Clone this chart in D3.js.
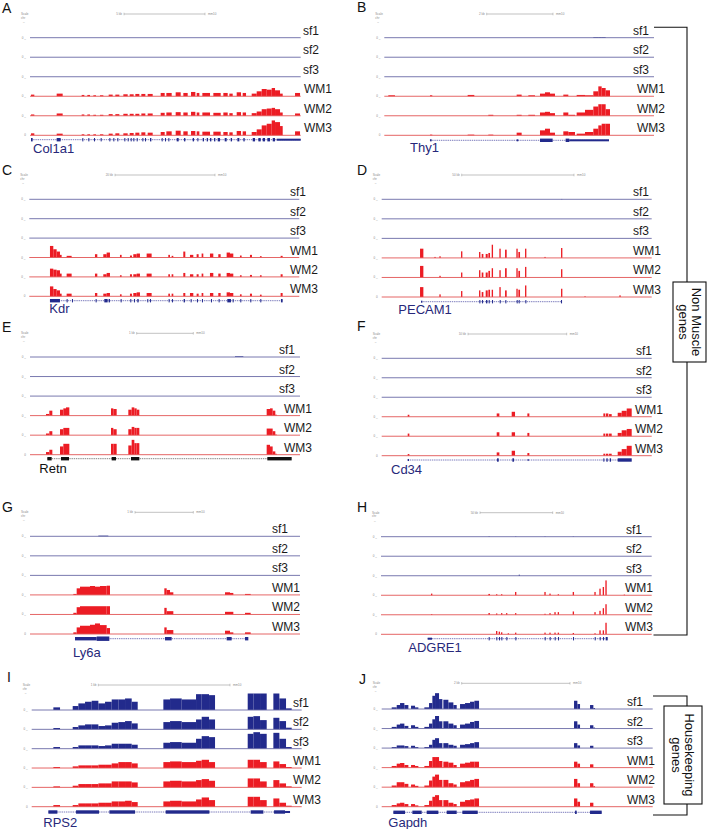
<!DOCTYPE html>
<html>
<head>
<meta charset="utf-8">
<script src="https://cdn.jsdelivr.net/npm/d3@7"></script>
<style>
  body { margin: 0; background: #fff; }
  text { font-family: "Liberation Sans", Arial, sans-serif; }
</style>
</head>
<body>
<svg id="fig" width="713" height="829"></svg>
<script>
// track order inside every panel
const trackNames = ["sf1", "sf2", "sf3", "WM1", "WM2", "WM3"];

// ---- A: Col1a1 (window units 0..812, signal 0..50) ----
const col1a1Bins = [[3,13],[80,98],[155,163],[172,180],[190,198],[210,220],[236,248],[256,268],[280,293],[299,311],[316,328],[334,346],[353,368],[392,404],[409,425],[437,452],[460,473],[483,496],[500,508],[517,540],[550,572],[580,593],[598,608],[620,633],[638,648],[665,680],[680,695],[695,710],[710,725],[725,735],[735,750],[750,758],[795,810]];
const col1a1WM1 = [5,8,4,4,3,3,5,5,6,6,7,7,7,10,10,12,10,13,10,10,10,10,8,12,10,8,15,22,20,25,18,8,10];
const col1a1WM2 = [4,7,4,4,3,3,5,5,6,6,6,7,7,9,10,11,10,12,10,10,9,10,8,11,10,8,13,20,22,24,20,10,7];
const col1a1WM3 = [6,5,3,3,3,3,5,6,6,7,8,9,8,10,12,14,12,13,12,11,11,10,9,13,12,10,18,30,35,45,40,28,12];
const col1a1Exons = [[3,8,1],[80,92,1],[157,160,1],[175,178,1],[192,195,1],[212,215,1],[238,241,1],[250,253,1],[262,265,1],[283,286,1],[293,296,1],[302,305,1],[310,313,1],[320,323,1],[337,340,1],[345,348,1],[360,364,1],[395,398,1],[405,408,1],[415,418,1],[440,446,1],[462,466,1],[488,492,1],[502,505,1],[518,522,1],[530,534,1],[540,544,1],[552,556,1],[563,570,1],[584,590,1],[602,606,1],[622,628,1],[640,644,1],[668,675,1],[685,692,1],[698,705,1],[712,720,1],[728,735,1],[740,812,0.6]];

// ---- B: Thy1 ----
const thy1Bins = [[12,32],[137,144],[250,270],[312,327],[397,412],[432,452],[467,482],[482,497],[497,512],[537,552],[552,572],[577,602],[602,627],[627,642],[642,652],[652,664],[664,677]];
const thy1Sf1 = [0,0,0,0,0,0,0,0,0,0,0,0,0,2,2,2,0];
const thy1WM1 = [3,3,4,0,5,3,8,12,8,5,0,4,3,15,30,25,18];
const thy1WM2 = [0,0,0,3,3,3,10,12,8,10,3,10,18,28,35,35,20];
const thy1WM3 = [0,2,2,2,8,0,15,20,8,12,10,5,10,20,30,35,35];
const thy1Exons = [[137,142,0.6],[397,402,0.6],[467,505,1],[544,555,1],[555,674,0.6]];

// ---- C: Kdr ----
const kdrBins = [[62,72],[72,82],[82,92],[92,97],[112,127],[197,204],[222,232],[232,242],[272,277],[302,308],[312,322],[322,332],[352,367],[417,422],[427,432],[462,468],[482,492],[502,508],[517,522],[542,552],[567,574],[592,602],[602,612],[632,637],[662,668],[692,697],[754,760]];
const kdrWM1 = [35,25,18,8,5,10,10,15,8,6,10,12,12,8,5,18,8,10,12,12,10,15,12,6,8,4,5];
const kdrWM2 = [25,22,20,10,10,10,8,12,5,8,8,10,10,8,8,12,8,8,10,12,10,12,10,5,6,5,8];
const kdrWM3 = [30,22,18,8,8,10,8,10,6,8,10,12,10,8,8,10,10,8,10,10,10,12,10,6,8,5,10];
const kdrExons = [[62,92,1],[112,115,1],[128,130,1],[199,202,1],[225,235,1],[238,242,1],[274,276,1],[303,306,1],[314,317,1],[324,328,1],[354,357,1],[362,365,1],[418,421,1],[428,431,1],[463,467,1],[484,487,1],[503,506,1],[518,521,1],[545,548,1],[568,571,1],[594,605,1],[610,612,1],[633,636,1],[663,666,1],[693,696,1],[755,760,1]];

// ---- D: PECAM1 ----
const pecamBins = [[115,125],[158,162],[173,177],[238,242],[292,296],[300,305],[312,318],[320,325],[330,334],[353,357],[370,375],[404,408],[410,415],[430,434],[488,492],[538,542],[608,612],[713,717]];
const pecamSf1 = [0,0,0,0,0,0,0,0,0,0,0,0,0,0,0,1,0,0];
const pecamWM1 = [28,3,5,20,18,12,12,15,40,28,25,28,18,28,3,30,0,0];
const pecamWM2 = [35,0,5,15,22,15,15,20,28,22,28,28,20,32,0,25,0,0];
const pecamWM3 = [30,0,8,18,20,15,20,22,22,30,20,25,22,35,0,25,2,5];
const pecamExons = [[118,122,0.6],[293,296,1],[301,304,1],[313,317,1],[321,324,1],[331,334,1],[354,357,1],[371,374,1],[405,408,1],[411,414,1],[431,434,1],[538,541,1]];

// ---- E: Retn ----
const retnBins = [[48,58],[58,67],[90,100],[100,108],[108,118],[243,250],[250,260],[295,305],[305,313],[313,320],[320,328],[710,720],[720,728],[728,736],[736,740],[615,640]];
const retnSf1 = [0,0,0,0,0,0,0,0,0,0,0,0,0,0,0,2];
const retnWM1 = [5,15,18,22,25,22,20,18,25,22,18,20,22,15,3,0];
const retnWM2 = [5,12,18,22,22,22,18,18,25,22,22,20,20,12,2,0];
const retnWM3 = [8,15,25,33,33,33,33,28,45,35,35,30,25,10,3,0];
const retnExons = [[52,65,1],[93,117,1],[245,258,1],[303,328,1],[712,785,1]];

// ---- F: Cd34 ----
const cd34Bins = [[78,83],[345,353],[390,400],[437,443],[665,670],[672,680],[682,690],[708,720],[720,735],[735,750]];
const cd34WM1 = [6,10,15,10,10,10,8,12,18,25];
const cd34WM2 = [8,12,12,10,8,8,8,10,18,22];
const cd34WM3 = [5,10,15,8,6,6,6,12,20,30];
const cd34Exons = [[78,82,0.6],[346,351,1],[392,397,1],[438,441,0.6],[665,668,1],[674,678,1],[684,688,1],[708,750,1]];

// ---- G: Ly6a ----
const ly6aBins = [[130,140],[140,150],[150,180],[180,195],[195,210],[210,230],[230,240],[403,410],[410,420],[420,430],[585,600],[600,610],[645,662],[205,235]];
const ly6aSf1 = [0,0,0,0,0,0,0,0,0,0,0,0,0,2];
const ly6aWM1 = [3,20,25,27,25,27,28,20,15,8,8,6,3,0];
const ly6aWM2 = [5,22,25,25,25,25,25,20,10,10,8,8,5,0];
const ly6aWM3 = [5,20,25,28,32,27,18,20,12,12,10,5,5,0];
const ly6aExons = [[135,200,1],[200,238,1.3],[405,425,1],[590,605,1],[645,655,1]];

// ---- H: ADGRE1 ----
const adgreBins = [[150,154],[322,327],[345,349],[353,357],[360,364],[375,379],[380,384],[402,406],[490,494],[505,509],[520,524],[530,534],[575,579],[640,644],[655,659],[665,669],[673,677],[728,732],[413,417]];
const adgreSf1 = [0,1,0,0,0,0,0,1,1,0,0,0,1,0,0,0,0,0,0];
const adgreSf3 = [0,0,0,0,0,0,0,0,0,0,0,0,0,0,0,0,0,0,3];
const adgreWM1 = [5,4,3,0,3,0,0,10,10,5,0,3,10,10,20,25,45,2,0];
const adgreWM2 = [2,5,4,0,5,5,0,5,3,5,8,8,10,8,12,20,32,0,0];
const adgreWM3 = [0,0,10,8,6,0,3,5,5,5,5,5,4,3,12,12,35,0,0];
const adgreExons = [[140,153,0.6],[323,326,1],[346,349,1],[354,357,1],[361,364,1],[376,379,1],[403,406,1],[491,494,1],[506,509,1],[521,524,1],[531,534,1],[576,579,1],[641,644,1],[656,659,1],[666,669,1],[674,680,1]];

// ---- I: RPS2 ----
const rps2Bins = [[65,85],[123,140],[140,160],[160,180],[180,200],[200,220],[220,240],[240,260],[260,280],[280,300],[300,318],[395,415],[415,450],[450,493],[493,510],[510,532],[532,550],[648,665],[665,685],[685,705],[725,743],[743,763],[763,780]];
const rps2Sf1 = [8,12,20,25,28,20,25,32,32,35,25,32,35,32,48,48,45,60,60,60,60,35,5];
const rps2Sf2 = [4,7,12,15,15,10,12,20,22,25,18,22,25,22,30,38,30,38,40,28,35,25,5];
const rps2Sf3 = [5,5,10,10,10,8,10,15,15,15,12,18,20,18,30,38,35,45,55,45,48,30,5];
const rps2WM1 = [3,5,8,8,8,10,10,14,18,18,14,18,20,18,22,25,18,25,25,18,20,12,3];
const rps2WM2 = [3,5,10,10,10,12,12,18,18,18,15,18,20,18,22,25,20,27,27,18,22,12,3];
const rps2WM3 = [5,5,10,10,10,12,12,16,16,18,14,16,18,16,22,28,20,30,30,20,25,12,3];
const rps2Exons = [[50,77,1],[133,202,1],[233,310,1],[402,533,1],[657,695,1],[727,760,1],[760,775,0.6]];

// ---- J: Gapdh ----
const gapdhBins = [[30,45],[45,55],[55,68],[68,80],[88,100],[100,110],[128,142],[142,152],[152,160],[160,172],[172,182],[185,200],[200,215],[215,225],[235,250],[250,265],[265,278],[278,292],[577,587],[587,595],[625,635],[635,640]];
const gapdhSf1 = [5,12,18,12,10,5,5,18,40,48,30,28,20,12,15,18,22,25,25,15,12,3];
const gapdhSf2 = [5,12,15,8,10,5,5,15,28,38,22,22,15,10,12,15,20,23,22,12,10,3];
const gapdhSf3 = [3,8,8,6,7,3,3,10,25,30,15,15,10,7,10,12,15,18,15,8,7,0];
const gapdhWM1 = [5,12,14,8,8,5,5,20,32,32,20,18,15,8,12,15,18,18,18,12,10,0];
const gapdhWM2 = [5,15,15,10,8,4,5,20,32,38,22,22,12,8,15,18,22,25,25,12,12,3];
const gapdhWM3 = [5,10,12,8,8,4,5,18,30,35,20,20,12,8,15,20,22,25,25,15,12,0];
const gapdhExons = [[35,70,1],[92,120,1],[135,170,1],[195,225,1],[242,288,1],[580,585,1],[625,660,1]];

const red = "#ec1c24", navy = "#222a8c";
const sfLine = "#6a6aa6", wmLine = "#e25555";

const panels = [
  {id:"A", gene:"Col1a1", span:812, bins:col1a1Bins, tracks:[[],[],[],col1a1WM1,col1a1WM2,col1a1WM3], exons:col1a1Exons,
   x0:30, x1:300.7, y0:37.7, step:19.52, geneY:139.7, name:[33,153], letter:[2,13], sfLX:303, wmLX:304, scale:[14,124,205,"5 kb"]},
  {id:"B", gene:"Thy1", span:809, bins:thy1Bins, tracks:[thy1Sf1,[],[],thy1WM1,thy1WM2,thy1WM3], exons:thy1Exons,
   x0:384.3, x1:654, y0:37.7, step:19.52, geneY:140.3, name:[410,151.7], letter:[357,12], sfLX:633, wmLX:637, scale:[14,486.7,553,"2 kb"]},
  {id:"C", gene:"Kdr", span:810, bins:kdrBins, tracks:[[],[],[],kdrWM1,kdrWM2,kdrWM3], exons:kdrExons,
   x0:29.3, x1:299.3, y0:199.3, step:19.4, geneY:300.7, name:[49.3,313.3], letter:[2,175], sfLX:290, wmLX:290, scale:[175,115,215,"20 kb"]},
  {id:"D", gene:"PECAM1", span:810, bins:pecamBins, tracks:[pecamSf1,[],[],pecamWM1,pecamWM2,pecamWM3], exons:pecamExons,
   x0:381.7, x1:651.7, y0:199.3, step:19.54, geneY:301.7, name:[398.3,314], letter:[357,175], sfLX:633, wmLX:633, scale:[175,461.7,574,"50 kb"]},
  {id:"E", gene:"Retn", span:810, bins:retnBins, tracks:[retnSf1,[],[],retnWM1,retnWM2,retnWM3], exons:retnExons, black:true,
   x0:30, x1:300, y0:357, step:19.54, geneY:458.7, name:[39.3,473.3], letter:[2,332], sfLX:279, wmLX:284, scale:[333.3,136.7,193.3,"1 kb"]},
  {id:"F", gene:"Cd34", span:810, bins:cd34Bins, tracks:[[],[],[],cd34WM1,cd34WM2,cd34WM3], exons:cd34Exons,
   x0:381.7, x1:651.7, y0:358.3, step:19.48, geneY:460, name:[391,474], letter:[357,331], sfLX:636, wmLX:635, scale:[334,468,566.7,"10 kb"]},
  {id:"G", gene:"Ly6a", span:810, bins:ly6aBins, tracks:[ly6aSf1,[],[],ly6aWM1,ly6aWM2,ly6aWM3], exons:ly6aExons,
   x0:30, x1:300, y0:536.3, step:19.54, geneY:638.7, name:[73,656.5], letter:[2,512], sfLX:272, wmLX:272, scale:[512.3,135,193.3,"1 kb"]},
  {id:"H", gene:"ADGRE1", span:812, bins:adgreBins, tracks:[adgreSf1,[],adgreSf3,adgreWM1,adgreWM2,adgreWM3], exons:adgreExons,
   x0:381, x1:651.7, y0:536.7, step:19.52, geneY:638.7, name:[408.3,651.7], letter:[357,512], sfLX:626, wmLX:625, scale:[512.7,480,552.7,"50 kb"]},
  {id:"I", gene:"RPS2", span:810, bins:rps2Bins, tracks:[rps2Sf1,rps2Sf2,rps2Sf3,rps2WM1,rps2WM2,rps2WM3], exons:rps2Exons,
   x0:31.7, x1:301.7, y0:710, step:19.34, geneY:812, name:[43.3,826.7], letter:[7,682], sfLX:293, wmLX:293, scale:[685,98.3,230,"1 kb"]},
  {id:"J", gene:"Gapdh", span:813, bins:gapdhBins, tracks:[gapdhSf1,gapdhSf2,gapdhSf3,gapdhWM1,gapdhWM2,gapdhWM3], exons:gapdhExons,
   x0:381.7, x1:652.7, y0:709, step:19.54, geneY:812.3, name:[388.3,826.7], letter:[359,683.5], sfLX:627, wmLX:627, scale:[683.3,461.7,570,"2 kb"]}
];

const svg = d3.select("#fig");

function drawPanel(p) {
  const g = svg.append("g").attr("class", "panel-" + p.id);
  const x = d3.scaleLinear().domain([0, p.span]).range([p.x0, p.x1]);
  const y = d3.scaleLinear().domain([0, 50]).range([0, 16.5]).clamp(true);

  // panel letter
  g.append("text").attr("x", p.letter[0]).attr("y", p.letter[1])
    .attr("font-size", 14).attr("fill", "#111").text(p.id);

  // browser header (tiny) + scale bar
  const [sy, sa, sb, kb] = p.scale;
  const tiny = g.append("g").attr("fill", "#888").attr("font-size", 3);
  tiny.append("text").attr("x", p.x0 - 9).attr("y", sy + 1).text("Scale");
  tiny.append("text").attr("x", p.x0 - 9).attr("y", sy + 4.5).text("chr");
  tiny.append("text").attr("x", p.x0 - 7).attr("y", sy + 8).text("_");
  g.append("line").attr("x1", sa).attr("x2", sb).attr("y1", sy).attr("y2", sy)
    .attr("stroke", "#999").attr("stroke-width", 0.6);
  [sa, sb].forEach(v => g.append("line").attr("x1", v).attr("x2", v)
    .attr("y1", sy - 1.3).attr("y2", sy + 1.3).attr("stroke", "#999").attr("stroke-width", 0.5));
  tiny.append("text").attr("x", sa - 2).attr("y", sy + 1).attr("text-anchor", "end").text(kb);
  tiny.append("text").attr("x", sb + 3).attr("y", sy + 1).text("mm10");

  // coverage tracks
  p.tracks.forEach((vals, i) => {
    const base = p.y0 + i * p.step;
    const isSf = i < 3;
    const fill = isSf ? navy : red;
    const tg = g.append("g");
    const data = p.bins.map((b, j) => ({ s: b[0], e: b[1], v: vals[j] || 0 })).filter(d => d.v > 0);
    tg.selectAll("rect").data(data).join("rect")
      .attr("x", d => x(d.s))
      .attr("width", d => Math.max(0.8, x(d.e) - x(d.s)))
      .attr("y", d => base - y(d.v))
      .attr("height", d => y(d.v))
      .attr("fill", fill);
    tg.append("line").attr("x1", p.x0).attr("x2", p.x1).attr("y1", base).attr("y2", base)
      .attr("stroke", isSf ? sfLine : wmLine).attr("stroke-width", 0.9);
    // tiny y-axis labels
    tiny.append("text").attr("x", p.x0 - 4).attr("y", base + 1).attr("text-anchor", "end").text(i === 5 ? "0" : "0 _");
    // track name
    g.append("text").attr("x", isSf ? p.sfLX : p.wmLX).attr("y", base - 3)
      .attr("font-size", 12).attr("fill", "#1a1a1a").text(trackNames[i]);
  });

  // gene model
  const geneCol = p.black ? "#111" : navy;
  const lo = d3.min(p.exons, d => d[0]), hi = d3.max(p.exons, d => d[1]);
  g.append("line").attr("x1", x(lo)).attr("x2", x(hi)).attr("y1", p.geneY).attr("y2", p.geneY)
    .attr("stroke", p.black ? "#777" : "#6c6cb4").attr("stroke-width", 0.9).attr("stroke-dasharray", "1.4,0.8");
  g.selectAll("rect.exon").data(p.exons).join("rect").attr("class", "exon")
    .attr("x", d => x(d[0]))
    .attr("width", d => Math.max(1, x(d[1]) - x(d[0])))
    .attr("y", d => p.geneY - 1.7 * d[2])
    .attr("height", d => 3.4 * d[2])
    .attr("fill", geneCol);
  g.append("text").attr("x", p.name[0]).attr("y", p.name[1])
    .attr("font-size", 13).attr("fill", p.black ? "#111" : "#27287a").text(p.gene);
}

panels.forEach(drawPanel);

// group brackets
const br = svg.append("g").attr("stroke", "#111").attr("stroke-width", 1.1).attr("fill", "none");
br.append("path").attr("d", "M654,27.3H687V282M687,362V635H653.5");
br.append("rect").attr("x", 673).attr("y", 282).attr("width", 33).attr("height", 80).attr("fill", "#fff");
br.append("path").attr("d", "M653,696H687V706M687,804V815H653");
br.append("rect").attr("x", 664).attr("y", 706).attr("width", 38).attr("height", 98).attr("fill", "#fff");

function boxLabel(cx, cy, lines) {
  const t = svg.append("g").attr("transform", `translate(${cx},${cy}) rotate(90)`);
  lines.forEach((s, k) => t.append("text").attr("x", 0).attr("y", (k - (lines.length - 1) / 2) * 13 + 4.5)
    .attr("text-anchor", "middle").attr("font-size", 13).attr("fill", "#111").text(s));
}
boxLabel(689.5, 322, ["Non Muscle", "genes"]);
boxLabel(683, 755, ["Housekeeping", "genes"]);
</script>
</body>
</html>
